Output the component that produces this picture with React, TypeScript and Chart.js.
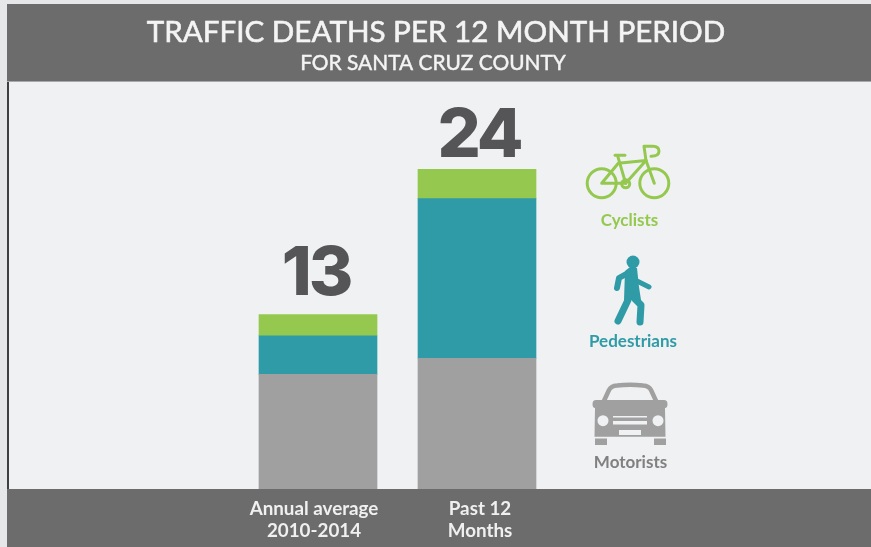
import React, { useEffect, useRef } from "react";
import { Chart, registerables } from "chart.js";

Chart.register(...registerables);

const categories = [["Annual average", "2010-2014"], ["Past 12", "Months"]];
const motorists = [8.6, 9.8];
const pedestrians = [2.9, 12];
const cyclists = [1.6, 2.2];
const totals = ["13", "24"];
const titleText = "TRAFFIC DEATHS PER 12 MONTH PERIOD";
const subtitleText = "FOR SANTA CRUZ COUNTY";
const legendLabels = ["Cyclists", "Pedestrians", "Motorists"];

const GREY = "#a0a0a0";
const TEAL = "#2f9ba7";
const GREEN = "#94c84e";
const BAND = "#6c6c6c";
const PAPER = "#f0f1f3";
const FONT = "Lato, sans-serif";

const totalShiftX = [-2, 2];
const totalShiftY = [-19, -12];
const tickShiftX = [-4, 3];

const decor = {
  id: "decor",
  beforeDraw(c: any) {
    const g = c.ctx;
    const W = c.width;
    const H = c.height;
    c.scales.x.getLabelItems().forEach((item: any, i: number) => {
      if (!item.shifted) {
        item.options.translation[0] += tickShiftX[i];
        item.shifted = true;
      }
    });
    g.save();
    g.fillStyle = "#e6e7e8";
    g.fillRect(0, 0, W, H);
    g.fillStyle = PAPER;
    g.fillRect(9, 82, W - 9, 407);
    g.fillStyle = BAND;
    g.fillRect(7, 4, W - 7, 78);
    g.fillRect(7, 489, W - 7, 58);
    g.fillStyle = "#3f3f3f";
    g.fillRect(7, 82, 2, 407);
    g.fillStyle = "#a9a9a9";
    g.fillRect(7, 81, W - 7, 1);
    g.restore();
  },
  afterDraw(c: any) {
    const g = c.ctx;
    const x = c.scales.x;
    g.save();
    g.textAlign = "center";
    g.textBaseline = "alphabetic";
    g.lineJoin = "round";
    g.fillStyle = "#f4f4f4";
    g.strokeStyle = "#f4f4f4";
    g.lineWidth = 0.6;
    g.font = `400 29.6px ${FONT}`;
    g.fillText(titleText, 436, 42);
    g.strokeText(titleText, 436, 42);
    g.lineWidth = 0.45;
    g.font = `400 20.9px ${FONT}`;
    g.fillText(subtitleText, 433, 70);
    g.strokeText(subtitleText, 433, 70);

    g.fillStyle = "#555557";
    g.font = `800 68px Inter, ${FONT}`;
    (g as any).letterSpacing = "-3px";
    const meta = c.getDatasetMeta(2);
    totals.forEach((t, i) => {
      g.fillText(t, x.getPixelForValue(i) + totalShiftX[i], meta.data[i].y + totalShiftY[i]);
    });
    (g as any).letterSpacing = "0px";

    g.font = `700 17px ${FONT}`;
    g.fillStyle = GREEN;
    g.fillText(legendLabels[0], 629.5, 226);
    g.fillStyle = TEAL;
    g.fillText(legendLabels[1], 633, 347);
    g.fillStyle = "#808080";
    g.fillText(legendLabels[2], 630.5, 468);

    // bicycle
    g.save();
    g.translate(628, 183.3);
    g.strokeStyle = GREEN;
    g.lineWidth = 3;
    g.lineCap = "round";
    g.lineJoin = "round";
    g.beginPath();
    g.arc(-26.3, 0, 14.5, 0, Math.PI * 2);
    g.moveTo(40.8, 0);
    g.arc(26.3, 0, 14.5, 0, Math.PI * 2);
    g.moveTo(1.7, 0.5);
    g.arc(-2.3, 0.5, 4, 0, Math.PI * 2);
    g.stroke();
    g.stroke(new Path2D("M-26.3 0 L-9.7 -20 L18 -22.7 L-2.3 0 Z"));
    g.stroke(new Path2D("M-13 -28 L-3 -28 M-10.5 -28 L-2.3 0"));
    g.stroke(new Path2D("M18 -22.7 L26.3 0"));
    g.stroke(new Path2D("M18 -22.7 L16 -37 L25 -37 Q31 -37 31 -32 Q31 -27 23 -27"));
    g.restore();

    // pedestrian
    g.save();
    g.translate(633, 262);
    g.fillStyle = TEAL;
    g.strokeStyle = TEAL;
    g.lineCap = "round";
    g.lineJoin = "round";
    g.beginPath();
    g.arc(0, 0, 6.5, 0, Math.PI * 2);
    g.fill();
    g.lineWidth = 6;
    g.stroke(new Path2D("M-5 11 L-14 16 L-16 26"));
    g.lineWidth = 5;
    g.stroke(new Path2D("M4 19 L16 25"));
    g.fill(new Path2D("M-8 9 L-3 5 L4 6 L6 25 L8 38 L-9 38 Z"));
    g.lineWidth = 7;
    g.stroke(new Path2D("M-5 38 L-15 59"));
    g.stroke(new Path2D("M2 37 L8 43 L7 60"));
    g.restore();

    // car
    g.save();
    g.translate(630, 415);
    g.fillStyle = GREY;
    g.strokeStyle = GREY;
    g.lineJoin = "round";
    g.lineCap = "round";
    g.lineWidth = 4.5;
    g.stroke(new Path2D("M-27 -12 L-21 -25 Q-19 -29 -13 -29.5 Q0 -31 13 -29.5 Q19 -29 21 -25 L27 -12"));
    g.fill(new Path2D("M-34 -15 Q-37.5 -15 -37.5 -11 Q-37.5 -7 -35 -7 L-35.5 21.7 L35.5 21.7 L35 -7 Q37.5 -7 37.5 -11 Q37.5 -15 34 -15 Z"));
    g.fillRect(-35, 23.5, 12, 6.5);
    g.fillRect(24, 23.5, 12, 6.5);
    g.fillStyle = PAPER;
    g.beginPath();
    g.arc(-27, 5.7, 5.5, 0, Math.PI * 2);
    g.fill();
    g.beginPath();
    g.arc(28, 5.7, 5.5, 0, Math.PI * 2);
    g.fill();
    g.fillRect(-17, 1, 34, 1.5);
    g.fillRect(-17, 6, 34, 3.5);
    g.fillRect(-11, 15, 22, 5);
    g.restore();
    g.restore();
  },
};

export default function App() {
  const ref = useRef<HTMLCanvasElement>(null);
  useEffect(() => {
    document.body.style.margin = "0";
    document.body.style.overflow = "hidden";
    const chart = new Chart(ref.current as HTMLCanvasElement, {
      type: "bar",
      data: {
        labels: categories as any,
        datasets: [
          { label: "Motorists", data: motorists, backgroundColor: GREY },
          { label: "Pedestrians", data: pedestrians, backgroundColor: TEAL },
          { label: "Cyclists", data: cyclists, backgroundColor: GREEN },
        ],
      },
      options: {
        animation: false,
        responsive: false,
        events: [],
        layout: { padding: { left: 238.5, right: 314.5, top: 82, bottom: 0 } },
        datasets: { bar: { barThickness: 118 } },
        plugins: { legend: { display: false }, title: { display: false }, tooltip: { enabled: false } },
        scales: {
          x: {
            stacked: true,
            grid: { display: false, drawTicks: false },
            border: { display: false },
            afterFit: (s: any) => { s.height = 58; },
            ticks: {
              color: "#f0f0f0",
              padding: 8,
              maxRotation: 0,
              autoSkip: false,
              font: { family: FONT, size: 18.8, weight: 700, lineHeight: 1.22 },
            },
          },
          y: { stacked: true, display: false, min: 0, max: 30.55 },
        },
      },
      plugins: [decor],
    } as any);
    return () => chart.destroy();
  }, []);
  return <canvas ref={ref} width={871} height={547} style={{ display: "block" }} />;
}
